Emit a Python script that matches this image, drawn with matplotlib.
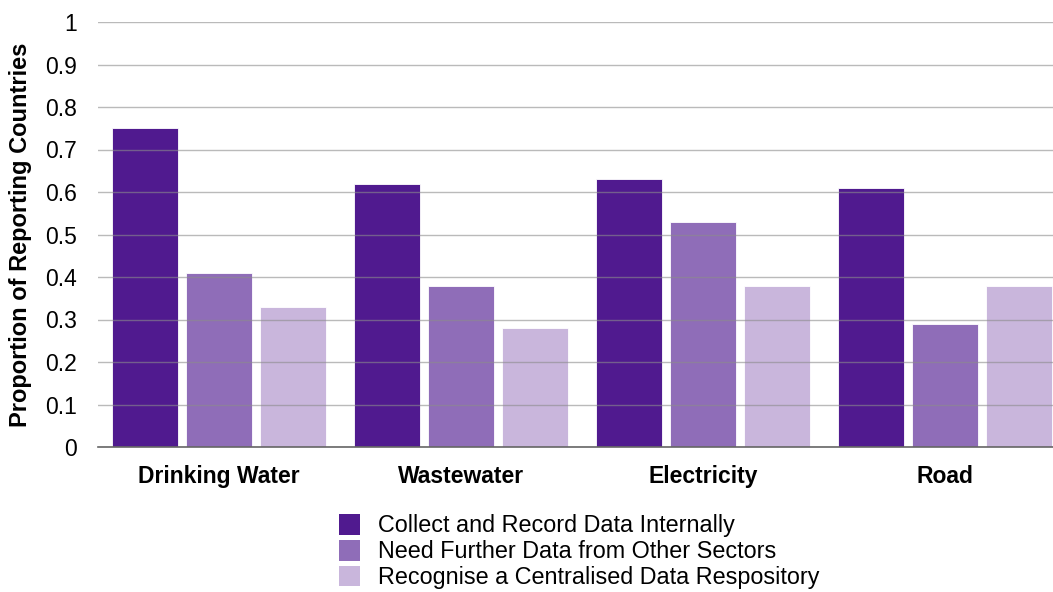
import matplotlib
matplotlib.use("Agg")
import matplotlib.pyplot as plt
import numpy as np
from matplotlib.patches import Patch

categories = ["Drinking Water", "Wastewater", "Electricity", "Road"]
series_names = [
    "Collect and Record Data Internally",
    "Need Further Data from Other Sectors",
    "Recognise a Centralised Data Respository",
]
collect_internal = [0.75, 0.62, 0.63, 0.61]
need_further = [0.41, 0.38, 0.53, 0.29]
central_repo = [0.33, 0.28, 0.38, 0.38]
y_ticks = [0, 0.1, 0.2, 0.3, 0.4, 0.5, 0.6, 0.7, 0.8, 0.9, 1]
y_tick_labels = ["0", "0.1", "0.2", "0.3", "0.4", "0.5", "0.6", "0.7", "0.8", "0.9", "1"]

colors = ["#501a8f", "#8f6db8", "#c9b6dc"]

plt.rcParams["font.family"] = ["Liberation Sans", "DejaVu Sans"]

W, H = 1053, 592
fig = plt.figure(figsize=(W / 100, H / 100), dpi=100)
ax = fig.add_axes([98 / W, (H - 447) / H, 968 / W, 425 / H])

x = np.arange(len(categories))
width = 0.273
step = 0.306
for i, vals in enumerate([collect_internal, need_further, central_repo]):
    ax.bar(x + (i - 1) * step, vals, width, color=colors[i],
           edgecolor="#ffffff", linewidth=0.6, zorder=2)

ax.set_xlim(-0.5, len(categories) - 0.5)
ax.set_ylim(0, 1)
ax.set_yticks(y_ticks)
ax.set_yticklabels(y_tick_labels, fontsize=16.5)
ax.set_xticks(x)
ax.set_xticklabels(categories, fontsize=16.5, fontweight="bold")
ax.tick_params(axis="both", length=0)
ax.tick_params(axis="y", pad=15)
ax.tick_params(axis="x", pad=13)

ax.yaxis.grid(True, color="#8c8c8c", linewidth=1.0, alpha=0.6, zorder=3)
ax.set_axisbelow(False)
for s in ["top", "right", "left"]:
    ax.spines[s].set_visible(False)
ax.spines["bottom"].set_color("#666666")
ax.spines["bottom"].set_linewidth(1.2)
ax.spines["bottom"].set_zorder(4)

ax.set_ylabel("Proportion of Reporting Countries", fontsize=17,
              fontweight="bold")
ax.yaxis.set_label_coords(-(98 - 32) / 968, 0.5)

handles = [Patch(facecolor=c, edgecolor="none") for c in colors]
fig.legend(handles, series_names, loc="upper left",
           bbox_to_anchor=(339 / W, (H - 514) / H), frameon=False,
           fontsize=16.8, handlelength=0.9, handleheight=1.0,
           handletextpad=0.75, labelspacing=0.1, borderpad=0,
           borderaxespad=0)

fig.savefig("out.png", dpi=100)
